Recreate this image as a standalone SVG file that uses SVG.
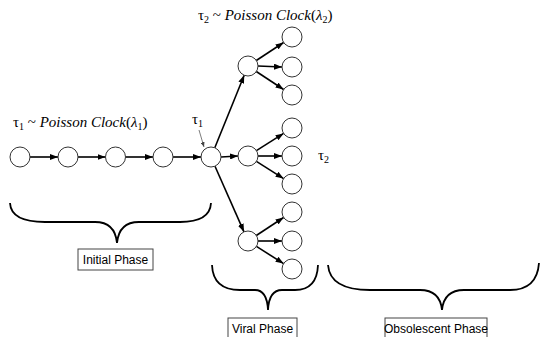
<svg xmlns="http://www.w3.org/2000/svg" width="540" height="337" viewBox="0 0 540 337">
<style>
.n{fill:#fff;stroke:#333;stroke-width:1}
.e{stroke:#000;stroke-width:1.6;fill:none;marker-end:url(#ah)}
.thin{stroke:#444;stroke-width:0.7;fill:none;marker-end:url(#ahs)}
.br{stroke:#000;stroke-width:1.8;fill:none}
.box{fill:#fff;stroke:#444;stroke-width:1}
.lbl{font-family:"Liberation Sans",Arial,sans-serif;font-size:12px;fill:#000}
.m{font-family:"Liberation Serif","DejaVu Serif",serif;font-size:15px;fill:#000}
.it{font-style:italic}
</style>
<defs>
<marker id="ah" markerUnits="userSpaceOnUse" markerWidth="8" markerHeight="6" refX="8" refY="3" orient="auto"><path d="M0,0 L8,3 L0,6 z" fill="#000"/></marker>
<marker id="ahs" markerUnits="userSpaceOnUse" markerWidth="5" markerHeight="4" refX="5" refY="2" orient="auto"><path d="M0,0 L5,2 L0,4 z" fill="#444"/></marker>
</defs>
<g id="connectors">
<line class="e" x1="30" y1="157" x2="58" y2="157"/>
<line class="e" x1="78" y1="157" x2="105.5" y2="157"/>
<line class="e" x1="125.5" y1="157" x2="153" y2="157"/>
<line class="e" x1="173" y1="157" x2="201" y2="157"/>
<line class="e" x1="214.8" y1="147.7" x2="244.2" y2="75.3"/>
<line class="e" x1="221" y1="157" x2="238" y2="156"/>
<line class="e" x1="215" y1="166.2" x2="244" y2="231.9"/>
<line class="e" x1="256.3" y1="60.5" x2="283.6" y2="42.5"/>
<line class="e" x1="258" y1="66" x2="282" y2="67"/>
<line class="e" x1="256.3" y1="71.5" x2="283.6" y2="89.5"/>
<line class="e" x1="256.4" y1="150.6" x2="283.6" y2="133.4"/>
<line class="e" x1="258" y1="156" x2="282" y2="156"/>
<line class="e" x1="256.4" y1="161.4" x2="283.6" y2="178.6"/>
<line class="e" x1="256.3" y1="235.5" x2="283.6" y2="217.5"/>
<line class="e" x1="258" y1="241" x2="282" y2="241"/>
<line class="e" x1="256.4" y1="246.4" x2="283.6" y2="263.6"/>
<line class="thin" x1="199" y1="130" x2="204" y2="147"/>
</g>
<g id="c1"><circle class="n" cx="20" cy="157" r="10"/></g>
<g id="c2"><circle class="n" cx="68" cy="157" r="10"/></g>
<g id="c3"><circle class="n" cx="115.5" cy="157" r="10"/></g>
<g id="c4"><circle class="n" cx="163" cy="157" r="10"/></g>
<g id="hub"><circle class="n" cx="211" cy="157" r="10"/></g>
<g id="h1"><circle class="n" cx="248" cy="66" r="10"/></g>
<g id="h2"><circle class="n" cx="248" cy="156" r="10"/></g>
<g id="h3"><circle class="n" cx="248" cy="241" r="10"/></g>
<g id="l1"><circle class="n" cx="292" cy="37" r="10"/></g>
<g id="l2"><circle class="n" cx="292" cy="67" r="10"/></g>
<g id="l3"><circle class="n" cx="292" cy="95" r="10"/></g>
<g id="l4"><circle class="n" cx="292" cy="128" r="10"/></g>
<g id="l5"><circle class="n" cx="292" cy="156" r="10"/></g>
<g id="l6"><circle class="n" cx="292" cy="184" r="10"/></g>
<g id="l7"><circle class="n" cx="292" cy="212" r="10"/></g>
<g id="l8"><circle class="n" cx="292" cy="241" r="10"/></g>
<g id="l9"><circle class="n" cx="292" cy="269" r="10"/></g>
<g id="labels">
<text class="m" x="13" y="127">τ<tspan font-size="10" dy="3">1</tspan><tspan dy="-3"> ~ </tspan><tspan class="it">Poisson Clock</tspan>(<tspan class="it">λ</tspan><tspan font-size="10" dy="3">1</tspan><tspan dy="-3">)</tspan></text>
<text class="m" x="198" y="20">τ<tspan font-size="10" dy="3">2</tspan><tspan dy="-3"> ~ </tspan><tspan class="it">Poisson Clock</tspan>(<tspan class="it">λ</tspan><tspan font-size="10" dy="3">2</tspan><tspan dy="-3">)</tspan></text>
<text class="m" x="192" y="124">τ<tspan font-size="10" dy="3">1</tspan></text>
<text class="m" x="318" y="160">τ<tspan font-size="10" dy="3">2</tspan></text>
</g>
<g id="initial">
<path class="br" d="M10,203 Q11,222 45,222 L95,222 Q115,222 117,243 Q119,222 139,222 L180,222 Q210,222 211,203"/>
<rect class="box" x="78" y="249" width="75" height="21"/>
<text class="lbl" x="115.5" y="264" text-anchor="middle">Initial Phase</text>
</g>
<g id="viral">
<path class="br" d="M212,265 Q213,290 240,290 L255,290 Q267,290 268,310 Q269,290 282,290 L295,290 Q317,290 318,265"/>
<rect class="box" x="228" y="318" width="69" height="25"/>
<text class="lbl" x="262.5" y="333" text-anchor="middle">Viral Phase</text>
</g>
<g id="obsolescent">
<path class="br" d="M328,265 Q330,290 370,290 L420,290 Q440,290 442,310 Q444,290 464,290 L510,290 Q537,290 539,263"/>
<rect class="box" x="385" y="318" width="102" height="25"/>
<text class="lbl" x="436" y="333" text-anchor="middle">Obsolescent Phase</text>
</g>
</svg>
